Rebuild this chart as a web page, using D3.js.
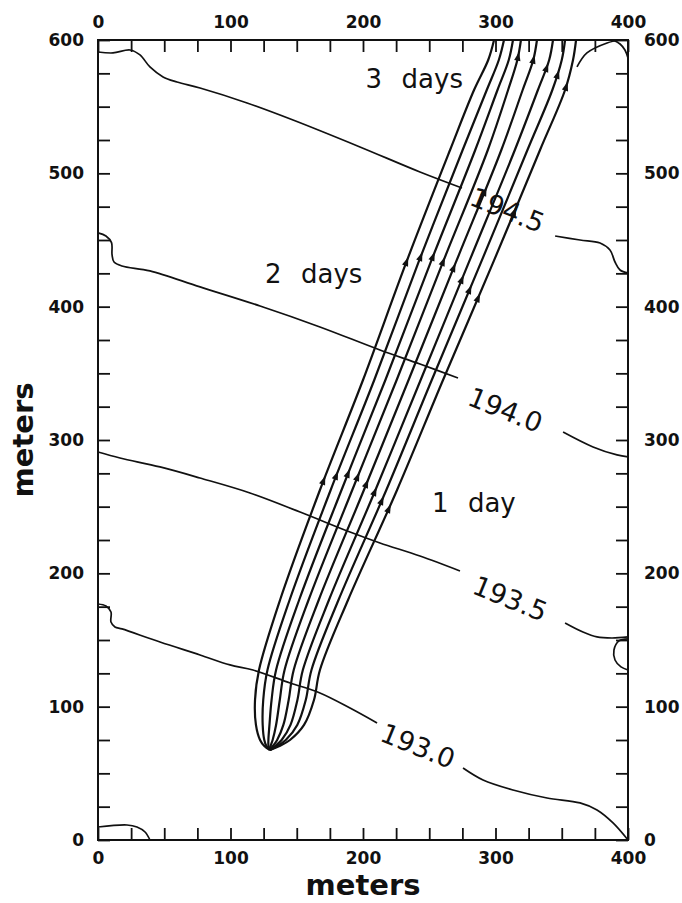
<!DOCTYPE html>
<html>
<head>
<meta charset="utf-8">
<script src="https://cdn.jsdelivr.net/npm/d3@7"></script>
<style>
  body { margin: 0; background: #fff; }
  svg { display: block; }
</style>
</head>
<body>
<svg id="chart" width="682" height="903"></svg>
<script>
// ---- axis ticks (meters) ----
const xTickValues = [0, 25, 50, 75, 100, 125, 150, 175, 200, 225, 250, 275, 300, 325, 350, 375, 400];
const yTickValues = [0, 25, 50, 75, 100, 125, 150, 175, 200, 225, 250, 275, 300, 325, 350, 375, 400,
                     425, 450, 475, 500, 525, 550, 575, 600];
const xTickLabels = [0, 100, 200, 300, 400];
const yTickLabels = [0, 100, 200, 300, 400, 500, 600];

// ---- head contours [x m, y m] ----
const contour1945Left = [[0, 591], [11.3, 590.3], [24.2, 592.5], [31.7, 588.8], [39.2, 579.8], [49.1, 572.3],
  [59.6, 568.5], [77, 564], [112.5, 552.8], [147.2, 540], [197.7, 519.8], [243, 501], [274.7, 489]];
const contour1945Right = [[345, 453], [363.8, 450], [378.9, 447.8], [386.4, 442.5], [390.2, 433.5],
  [394, 427.5], [400, 425.3]];
const contour1940Left = [[0, 455.3], [6, 453], [10.2, 448], [10.6, 439], [12.1, 433.5], [18.1, 430.5],
  [39.2, 426.8], [77, 414.8], [122.3, 400.5], [167.5, 384.8], [212.8, 367.5], [243, 357], [271.7, 346.5]];
const contour1940Right = [[351, 306], [373.6, 294.8], [391.7, 288.8], [400, 287.3]];
const contour1935Left = [[0, 291], [16.6, 286.5], [46.8, 279.8], [77, 271.5], [114.7, 260.3], [152.5, 246],
  [190.2, 231], [212.8, 222.8], [243, 213], [273.2, 201.8]];
const contour1935Right = [[352.5, 162.8], [366, 156], [376.6, 152.3], [387.9, 151.5], [400, 152.3]];
const contour1935Edge = [[400, 150.8], [393.2, 149.3], [389.4, 142.5], [390.2, 135], [394.7, 129.8], [400, 127.5]];
const contour1930Left = [[0, 177], [6, 175.5], [9.8, 171], [9.8, 163.5], [12.8, 159.8], [18.1, 158.3],
  [46.8, 148.5], [77, 138.8], [99.6, 131.3], [117, 127.5], [145, 117.8], [167.5, 110.3], [190.2, 99], [210.6, 87.8]];
const contour1930Right = [[275.5, 54], [290.6, 45], [313.2, 37.5], [338.9, 31.5], [363.8, 27.8],
  [376.6, 22.5], [388.7, 12.8], [400, 0]];
const contourBottomCorner = [[0, 9.75], [21.9, 11.25], [29.4, 9.75], [35.5, 6], [39.2, 0]];
const contourTopCornerA = [[361.5, 579.8], [369, 590.3], [384.2, 597.8], [394, 600]];
const contourTopCornerB = [[388.7, 600], [394, 597], [397.7, 592.5], [400, 586.5]];

const contourLabels = ["194.5", "194.0", "193.5", "193.0"];
const contourLabelX = [309, 307.5, 311, 241.5];
const contourLabelY = [472.5, 322.5, 181.1, 70.5];

// ---- particle pathlines [x m, y m], from the release point upward ----
const pathlines = [
  [[129.8, 67.5], [125.5, 70.5], [122.3, 75], [119.2, 86.3], [118.5, 105], [121.5, 127.5], [137.4, 180],
   [167.5, 262.5], [200, 345], [232.5, 432.8], [265.7, 517.5], [283.8, 562.5], [294.5, 585], [298.9, 600]],
  [[129.8, 67.5], [127.1, 70.5], [125.5, 75], [124.3, 86.3], [124.7, 105], [127.9, 127.5], [144.6, 180],
   [175.6, 262.5], [208.5, 345], [241.7, 432.8], [275.2, 517.5], [293.4, 562.5], [302.5, 585], [306.4, 600]],
  [[129.8, 67.5], [128.7, 70.5], [128.6, 75], [129.4, 86.3], [131, 105], [134.4, 127.5], [151.8, 180],
   [183.8, 262.5], [216.9, 345], [250.9, 432.8], [284.7, 517.5], [301.5, 562.5], [310, 585], [313.2, 600]],
  [[129.8, 67.5], [130.3, 70.5], [131.8, 75], [134.4, 86.3], [137.2, 105], [140.8, 127.5], [158.9, 180],
   [191.9, 262.5], [225.4, 345], [260.1, 432.8], [294.2, 517.5], [309.5, 562.5], [316.5, 585], [319.2, 600]],
  [[129.8, 67.5], [132, 70.5], [135.2, 75], [139.9, 86.3], [143.9, 105], [147.7, 127.5], [166.6, 180],
   [200.7, 262.5], [234.4, 345], [269.9, 432.8], [304.4, 517.5], [320.5, 562.5], [328.5, 585], [331.3, 600]],
  [[129.8, 67.5], [133.7, 70.5], [138.6, 75], [145.3, 86.3], [150.5, 105], [154.6, 127.5], [174.3, 180],
   [209.4, 262.5], [243.5, 345], [279.7, 432.8], [314.6, 517.5], [332, 562.5], [340.5, 585], [343.4, 600]],
  [[129.8, 67.5], [135.4, 70.5], [141.7, 75], [150.4, 86.3], [156.8, 105], [161.1, 127.5], [181.5, 180],
   [217.6, 262.5], [251.9, 345], [288.9, 432.8], [324.1, 517.5], [342.9, 562.5], [350, 585], [352.5, 600]],
  [[129.8, 67.5], [137, 70.5], [144.9, 75], [155.5, 86.3], [163, 105], [167.5, 127.5], [188.7, 180],
   [225.7, 262.5], [260.4, 345], [298.1, 432.8], [333.6, 517.5], [352.5, 562.5], [358.5, 585], [360.8, 600]]
];

// travel-time marks: height (m) reached on each pathline
const markDay1 = [269.3, 273, 274.5, 272.3, 267, 261, 254.3, 248.3];
const markDay2 = [433.5, 437.3, 437.3, 433.5, 429, 420, 412.5, 406.5];
const markDay3 = [null, null, null, 587.3, 585, 579, 573.8, 564.8];
const markExtra = [null, null, null, null, 486, null, null, 471];

// travel-time annotations
const timeLabels = [["3", "days"], ["2", "days"], ["1", "day"]];
const timeLabelX = [201.9, 126, 252];
const timeLabelY = [564, 417.8, 246];

// ---- drawing ----
const svg = d3.select("#chart");
const x = d3.scaleLinear().domain([0, 400]).range([98, 628]);
const y = d3.scaleLinear().domain([0, 600]).range([840, 40]);

const curved = d3.line().x(d => x(d[0])).y(d => y(d[1])).curve(d3.curveCatmullRom.alpha(0.5));

const contours = [contour1945Left, contour1945Right, contour1940Left, contour1940Right,
  contour1935Left, contour1935Right, contour1935Edge, contour1930Left, contour1930Right,
  contourBottomCorner, contourTopCornerA, contourTopCornerB];

svg.append("g").selectAll("path").data(contours).join("path")
  .attr("d", curved)
  .attr("fill", "none")
  .attr("stroke", "#111")
  .attr("stroke-width", 1.7)
  .attr("stroke-linejoin", "round");

svg.append("g").selectAll("text").data(contourLabels).join("text")
  .attr("transform", (d, i) => `translate(${x(contourLabelX[i])},${y(contourLabelY[i])}) rotate(22)`)
  .attr("text-anchor", "middle")
  .attr("dominant-baseline", "central")
  .attr("font-family", "DejaVu Sans")
  .attr("font-size", 27)
  .attr("fill", "#111")
  .text(d => d);

const lineSel = svg.append("g").selectAll("path").data(pathlines).join("path")
  .attr("d", curved)
  .attr("fill", "none")
  .attr("stroke", "#111")
  .attr("stroke-width", 2.2)
  .attr("stroke-linejoin", "round");

// locate a height on a drawn pathline and return its screen point and heading
function pointAtHeight(node, value) {
  const ty = y(value);
  const L = node.getTotalLength();
  let prev = node.getPointAtLength(0);
  for (let l = 0.5; l <= L; l += 0.5) {
    const p = node.getPointAtLength(l);
    if (p.y <= ty && prev.y >= ty) {
      const a = node.getPointAtLength(Math.max(0, l - 3));
      const b = node.getPointAtLength(Math.min(L, l + 3));
      return { x: p.x, y: p.y, angle: Math.atan2(b.y - a.y, b.x - a.x) * 180 / Math.PI };
    }
    prev = p;
  }
  return null;
}

const marks = [];
lineSel.each(function (d, i) {
  [markDay1, markDay2, markDay3, markExtra].forEach(row => {
    if (row[i] != null) {
      const p = pointAtHeight(this, row[i]);
      if (p) marks.push(p);
    }
  });
});

svg.append("g").selectAll("path").data(marks).join("path")
  .attr("d", "M5,0 L-4,-3.2 L-4,3.2 Z")
  .attr("transform", d => `translate(${d.x},${d.y}) rotate(${d.angle})`)
  .attr("fill", "#111");

// travel-time annotations
const tl = svg.append("g").selectAll("text").data(timeLabels).join("text")
  .attr("x", (d, i) => x(timeLabelX[i]))
  .attr("y", (d, i) => y(timeLabelY[i]))
  .attr("font-family", "DejaVu Sans")
  .attr("font-size", 26)
  .attr("fill", "#111");
tl.append("tspan").text(d => d[0]);
tl.append("tspan").attr("dx", "0.75em").text(d => d[1]);

// frame
svg.append("rect")
  .attr("x", x(0)).attr("y", y(600))
  .attr("width", x(400) - x(0)).attr("height", y(0) - y(600))
  .attr("fill", "none").attr("stroke", "#111").attr("stroke-width", 2);

// axes with inward ticks, labels every 100 m
const fmtX = d => xTickLabels.includes(d) ? d : "";
const fmtY = d => yTickLabels.includes(d) ? d : "";

function styleAxis(g) {
  g.select(".domain").remove();
  g.selectAll(".tick line").attr("stroke", "#111").attr("stroke-width", 1.8);
  g.selectAll(".tick text").attr("font-family", "DejaVu Sans").attr("font-weight", "bold")
    .attr("font-size", 17).attr("fill", "#111");
}

svg.append("g").attr("transform", `translate(0,${y(0)})`)
  .call(d3.axisBottom(x).tickValues(xTickValues).tickFormat(fmtX).tickSize(-12).tickPadding(12))
  .call(styleAxis);
svg.append("g").attr("transform", `translate(0,${y(600)})`)
  .call(d3.axisTop(x).tickValues(xTickValues).tickFormat(fmtX).tickSize(-12).tickPadding(12))
  .call(styleAxis);
svg.append("g").attr("transform", `translate(${x(0)},0)`)
  .call(d3.axisLeft(y).tickValues(yTickValues).tickFormat(fmtY).tickSize(-12).tickPadding(14))
  .call(styleAxis);
svg.append("g").attr("transform", `translate(${x(400)},0)`)
  .call(d3.axisRight(y).tickValues(yTickValues).tickFormat(fmtY).tickSize(-12).tickPadding(16))
  .call(styleAxis);

// axis titles
svg.append("text")
  .attr("x", (x(0) + x(400)) / 2).attr("y", 895)
  .attr("text-anchor", "middle")
  .attr("font-family", "DejaVu Sans").attr("font-weight", "bold").attr("font-size", 29)
  .attr("fill", "#111")
  .text("meters");
svg.append("text")
  .attr("transform", `translate(33,${(y(0) + y(600)) / 2}) rotate(-90)`)
  .attr("text-anchor", "middle")
  .attr("font-family", "DejaVu Sans").attr("font-weight", "bold").attr("font-size", 29)
  .attr("fill", "#111")
  .text("meters");
</script>
</body>
</html>
